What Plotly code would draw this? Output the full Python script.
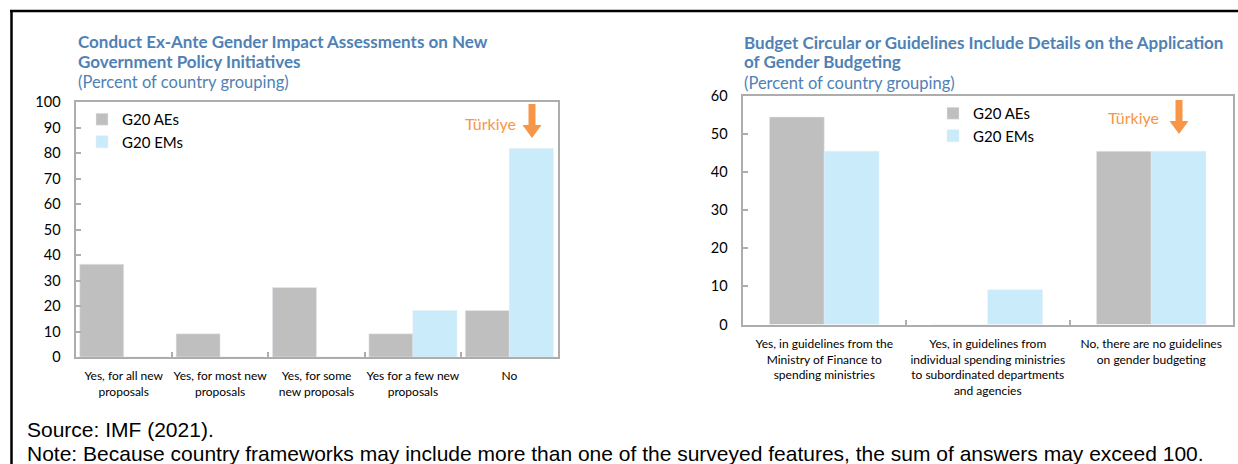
import plotly.graph_objects as go

left_categories = ["Yes, for all new<br>proposals", "Yes, for most new<br>proposals",
                   "Yes, for some<br>new proposals", "Yes for a few new<br>proposals", "No"]
left_aes = [36.4, 9.1, 27.3, 9.1, 18.2]
left_ems = [0, 0, 0, 18.2, 81.8]

right_categories = ["Yes, in guidelines from the<br>Ministry of Finance to<br>spending ministries",
                    "Yes, in guidelines from<br>individual spending ministries<br>to subordinated departments<br>and agencies",
                    "No, there are no guidelines<br>on gender budgeting"]
right_aes = [54.5, 0, 45.5]
right_ems = [45.5, 9.1, 45.5]

left_title = ["Conduct Ex-Ante Gender Impact Assessments on New", "Government Policy Initiatives"]
right_title = ["Budget Circular or Guidelines Include Details on the Application", "of Gender Budgeting"]
subtitle = "(Percent of country grouping)"
source = "Source: IMF (2021)."
note = "Note: Because country frameworks may include more than one of the surveyed features, the sum of answers may exceed 100."

GREY = "#BFBFBF"
BLUE = "#C9EBFA"
TITLE_C = "#4F81B5"
ORANGE = "#F79646"
AXIS_C = "#ADADAD"
FONT = "Lato"

W, H = 1238, 464


def px(x):
    return x / W


def py(y):
    return 1 - y / H


fig = go.Figure()
fig.add_trace(go.Bar(x=left_categories, y=left_aes, name="G20 AEs", marker_color=GREY,
                     xaxis="x", yaxis="y", legend="legend"))
fig.add_trace(go.Bar(x=left_categories, y=left_ems, name="G20 EMs", marker_color=BLUE,
                     xaxis="x", yaxis="y", legend="legend"))
fig.add_trace(go.Bar(x=right_categories, y=right_aes, name="G20 AEs", marker_color=GREY,
                     xaxis="x2", yaxis="y2", legend="legend2", width=0.335, offset=-0.335))
fig.add_trace(go.Bar(x=right_categories, y=right_ems, name="G20 EMs", marker_color=BLUE,
                     xaxis="x2", yaxis="y2", legend="legend2", width=0.335, offset=0))

axis_common = dict(showline=True, linecolor=AXIS_C, linewidth=2, mirror=True,
                   showgrid=False, zeroline=False, ticks="inside", ticklen=5,
                   tickcolor=AXIS_C, tickwidth=1.5, automargin=False, tickangle=0)

legend_common = dict(font=dict(family=FONT, size=15, color="#000"), bgcolor="rgba(0,0,0,0)",
                     itemwidth=30, tracegroupgap=0, xanchor="left", yanchor="top")

fig.update_layout(
    width=W, height=H, margin=dict(l=0, r=0, t=0, b=0, autoexpand=False),
    paper_bgcolor="white", plot_bgcolor="white",
    barmode="group",
    font=dict(family=FONT, color="#000"),
    xaxis=dict(domain=[px(75.5), px(557.5)], anchor="y", tickson="boundaries",
               tickfont=dict(size=12, color="#000"), ticklabelstandoff=7, **axis_common),
    yaxis=dict(domain=[py(357), py(102)], anchor="x", range=[0, 100], dtick=10,
               tickfont=dict(size=14.5, color="#000"), ticklabelstandoff=10, **axis_common),
    xaxis2=dict(domain=[px(742.5), px(1233)], anchor="y2", tickson="boundaries",
                tickfont=dict(size=12, color="#000"), ticklabelstandoff=7, **axis_common),
    yaxis2=dict(domain=[py(324.5), py(96)], anchor="x2", range=[0, 60], dtick=10,
                tickfont=dict(size=14.5, color="#000"), ticklabelstandoff=10, **axis_common),
    bargap=0.087,
    legend=dict(x=px(82), y=py(103), **legend_common),
    legend2=dict(x=px(933), y=py(97), **legend_common),
    showlegend=True,
)


def text_ann(x, y, text, size, color, bold=False, anchor="left", family=FONT):
    return dict(x=px(x), y=py(y), xref="paper", yref="paper", xanchor=anchor,
                yanchor="middle", text=("<b>%s</b>" % text) if bold else text,
                showarrow=False, align="left",
                font=dict(family=family, size=size, color=color))


anns = [
    text_ann(76, 41, left_title[0], 17, TITLE_C, bold=True),
    text_ann(76, 61, left_title[1], 17, TITLE_C, bold=True),
    text_ann(76, 82, subtitle, 16.5, TITLE_C),
    text_ann(742, 42, right_title[0], 17, TITLE_C, bold=True),
    text_ann(742, 62, right_title[1], 17, TITLE_C, bold=True),
    text_ann(742, 83, subtitle, 16.5, TITLE_C),
    text_ann(25, 429, source, 21, "#000", family="Liberation Sans"),
    text_ann(25, 453, note, 21, "#000", family="Liberation Sans"),
    text_ann(518, 123, "Türkiye", 16, ORANGE, anchor="right"),
    text_ann(1161, 117, "Türkiye", 16, ORANGE, anchor="right"),
]
fig.update_layout(annotations=anns)


def arrow_path(xc, y0, y1, shaft=7, head=19, head_len=13):
    hs, hh = shaft / 2, head / 2
    yb = y1 - head_len
    pts = [(xc - hs, y0), (xc + hs, y0), (xc + hs, yb), (xc + hh, yb), (xc, y1),
           (xc - hh, yb), (xc - hs, yb)]
    return "M " + " L ".join("%.5f,%.5f" % (px(a), py(b)) for a, b in pts) + " Z"


for xc, y0, y1 in [(532, 104, 138), (1179, 100, 134)]:
    fig.add_shape(type="path", xref="paper", yref="paper", path=arrow_path(xc, y0, y1),
                  fillcolor=ORANGE, line=dict(width=0))

# outer frame (top and left edges)
fig.add_shape(type="line", xref="paper", yref="paper", x0=px(10), x1=1.0, y0=py(11), y1=py(11),
              line=dict(color="black", width=2.5))
fig.add_shape(type="line", xref="paper", yref="paper", x0=px(11.5), x1=px(11.5), y0=py(10), y1=0,
              line=dict(color="black", width=2.5))

# remove the default page margin so the figure fills the window exactly
fig.write_html("out.html", config={"displayModeBar": False}, post_script=(
    "document.body.style.margin='0';"
    "document.body.style.overflow='hidden';"
    "document.documentElement.style.overflow='hidden';"))
